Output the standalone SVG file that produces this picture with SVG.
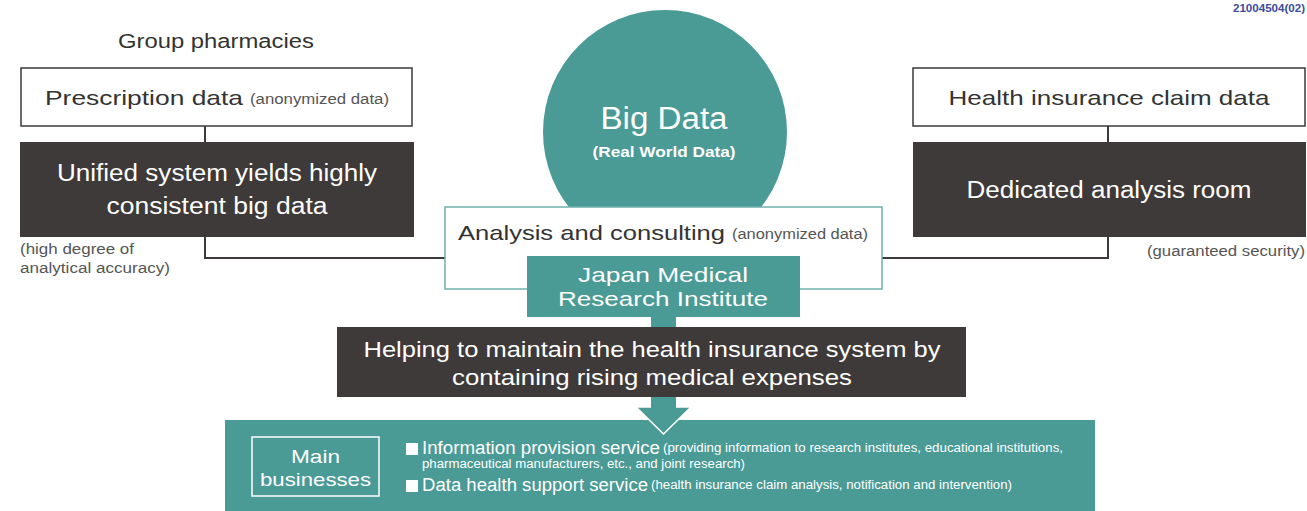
<svg xmlns="http://www.w3.org/2000/svg" width="1307" height="511" viewBox="0 0 1307 511">
<style>
text{font-family:"Liberation Sans",Arial,sans-serif}
.dk{fill:#3d3a39}
.tl{fill:#4a9a96}
.wb{fill:#fff;stroke:#3d3a39;stroke-width:1.5}
.t{fill:#333}
.w{fill:#fff}
.g{fill:#555}
.ln{fill:none;stroke:#3d3a39;stroke-width:2}
.c{text-anchor:middle}
</style>
<rect width="1307" height="511" fill="#fff"/>
<text x="1305" y="12" font-size="10" font-weight="bold" fill="#3b4da0" text-anchor="end" textLength="72" lengthAdjust="spacingAndGlyphs">21004504(02)</text>

<g id="connectors">
<path class="ln" d="M205,126 V142 M205,237 V258 H446"/>
<path class="ln" d="M1108,126 V142 M1108,237 V258 H881"/>
</g>

<g id="bigdata">
<circle cx="665" cy="132" r="122" class="tl"/>
<text x="664" y="129" font-size="31" class="w c" textLength="127" lengthAdjust="spacingAndGlyphs">Big Data</text>
<text x="664" y="157" font-size="14" font-weight="bold" class="w c" textLength="143" lengthAdjust="spacingAndGlyphs">(Real World Data)</text>
</g>

<g id="group-label">
<text x="118" y="48" font-size="20" class="t" textLength="196" lengthAdjust="spacingAndGlyphs">Group pharmacies</text>
</g>

<g id="prescription">
<rect x="21" y="68" width="391" height="58" class="wb"/>
<text x="45" y="105" font-size="21" class="t" textLength="198" lengthAdjust="spacingAndGlyphs">Prescription data</text>
<text x="250" y="104" font-size="14" class="g" textLength="139" lengthAdjust="spacingAndGlyphs">(anonymized data)</text>
</g>

<g id="unified">
<rect x="20" y="142" width="394" height="95" class="dk"/>
<text x="217" y="181" font-size="23" class="w c" textLength="320" lengthAdjust="spacingAndGlyphs">Unified system yields highly</text>
<text x="217" y="214" font-size="23" class="w c" textLength="221" lengthAdjust="spacingAndGlyphs">consistent big data</text>
<text x="20" y="254" font-size="14" class="g" textLength="114" lengthAdjust="spacingAndGlyphs">(high degree of</text>
<text x="20" y="273" font-size="14" class="g" textLength="150" lengthAdjust="spacingAndGlyphs">analytical accuracy)</text>
</g>

<g id="health-claim">
<rect x="913" y="68" width="392" height="58" class="wb"/>
<text x="1109" y="105" font-size="21" class="t c" textLength="321" lengthAdjust="spacingAndGlyphs">Health insurance claim data</text>
</g>

<g id="dedicated">
<rect x="913" y="142" width="393" height="95" class="dk"/>
<text x="1109" y="198" font-size="23" class="w c" textLength="285" lengthAdjust="spacingAndGlyphs">Dedicated analysis room</text>
<text x="1305" y="256" font-size="14" class="g" text-anchor="end" textLength="158" lengthAdjust="spacingAndGlyphs">(guaranteed security)</text>
</g>

<g id="analysis">
<rect x="445" y="207" width="437" height="82" fill="#fff" stroke="#6fb0ac" stroke-width="1.5"/>
<text x="458" y="240" font-size="21" class="t" textLength="267" lengthAdjust="spacingAndGlyphs">Analysis and consulting</text>
<text x="732" y="239" font-size="14" class="g" textLength="136" lengthAdjust="spacingAndGlyphs">(anonymized data)</text>
</g>

<g id="jmri">
<rect x="527" y="256" width="273" height="61" class="tl"/>
<text x="663" y="282" font-size="21" class="w c" textLength="170" lengthAdjust="spacingAndGlyphs">Japan Medical</text>
<text x="663" y="306" font-size="21" class="w c" textLength="210" lengthAdjust="spacingAndGlyphs">Research Institute</text>
</g>

<g id="stem">
<rect x="651" y="316" width="25" height="92" class="tl"/>
</g>

<g id="helping">
<rect x="337" y="327" width="629" height="70" class="dk"/>
<text x="652" y="357" font-size="22" class="w c" textLength="577" lengthAdjust="spacingAndGlyphs">Helping to maintain the health insurance system by</text>
<text x="652" y="385" font-size="22" class="w c" textLength="400" lengthAdjust="spacingAndGlyphs">containing rising medical expenses</text>
</g>

<g id="main-businesses">
<rect x="225" y="420" width="870" height="91" class="tl"/>
<path d="M636,407 H691 L663.5,434 Z" class="tl" stroke="#fff" stroke-width="1.5" stroke-linejoin="miter"/>
<path d="M651,404 H676 V416 H651 Z" class="tl"/>
<rect x="252" y="437" width="127" height="59" fill="none" stroke="#fff" stroke-width="1.5"/>
<text x="315.5" y="463" font-size="19" class="w c" textLength="49" lengthAdjust="spacingAndGlyphs">Main</text>
<text x="315.5" y="486" font-size="19" class="w c" textLength="111" lengthAdjust="spacingAndGlyphs">businesses</text>
<rect x="406" y="443" width="12" height="12" fill="#fff"/>
<rect x="406" y="480" width="12" height="12" fill="#fff"/>
<text x="422" y="454" font-size="18" class="w" textLength="238" lengthAdjust="spacingAndGlyphs">Information provision service</text>
<text x="663" y="452" font-size="12" class="w" textLength="400" lengthAdjust="spacingAndGlyphs">(providing information to research institutes, educational institutions,</text>
<text x="422" y="468" font-size="12" class="w" textLength="323" lengthAdjust="spacingAndGlyphs">pharmaceutical manufacturers, etc., and joint research)</text>
<text x="422" y="491" font-size="18" class="w" textLength="226" lengthAdjust="spacingAndGlyphs">Data health support service</text>
<text x="651" y="489" font-size="12" class="w" textLength="361" lengthAdjust="spacingAndGlyphs">(health insurance claim analysis, notification and intervention)</text>
</g>
</svg>
